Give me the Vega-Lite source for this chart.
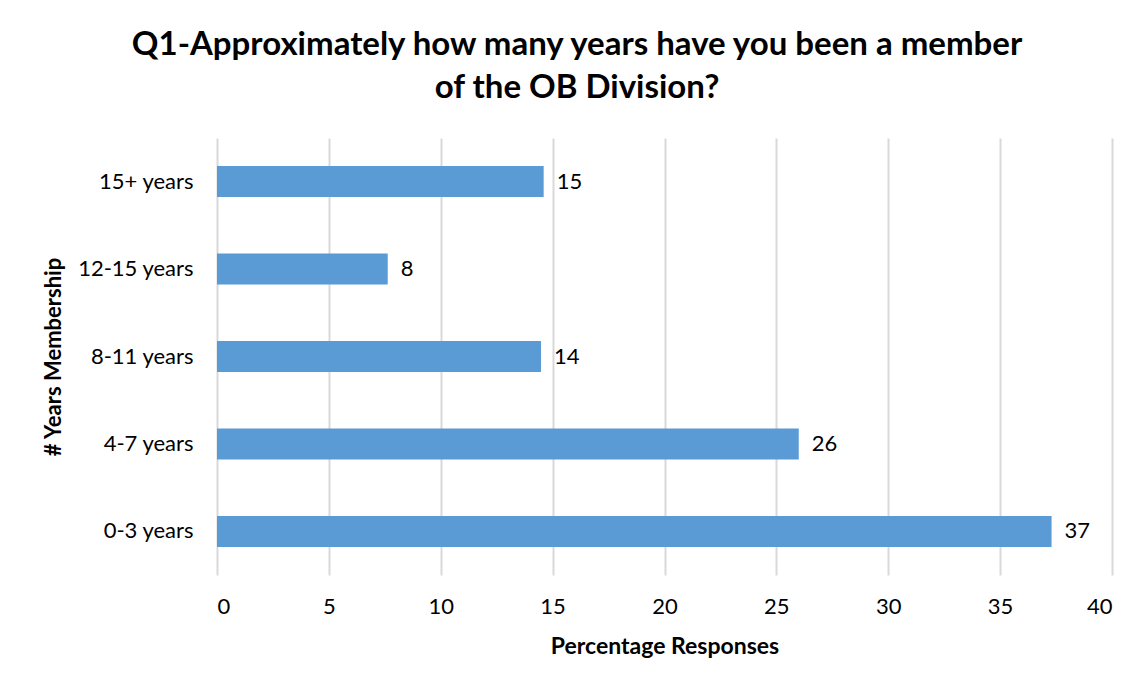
{
  "$schema": "https://vega.github.io/schema/vega-lite/v6.json",
  "width": 895,
  "height": 437,
  "autosize": {"type": "none"},
  "padding": {"left": 217, "top": 138, "right": 36, "bottom": 115},
  "background": "white",
  "config": {
    "font": "Lato",
    "view": {"stroke": null}
  },
  "title": {
    "text": ["Q1-Approximately how many years have you been a member", "of the OB Division?"],
    "font": "Lato",
    "fontSize": 33,
    "fontWeight": "bold",
    "color": "#000000",
    "anchor": "middle",
    "frame": "bounds",
    "lineHeight": 43,
    "offset": 33
  },
  "data": {
    "values": [
      {"category": "15+ years", "value": 14.6},
      {"category": "12-15 years", "value": 7.63},
      {"category": "8-11 years", "value": 14.48},
      {"category": "4-7 years", "value": 26.0},
      {"category": "0-3 years", "value": 37.3}
    ]
  },
  "encoding": {
    "y": {
      "field": "category",
      "type": "nominal",
      "sort": null,
      "scale": {"paddingInner": 0.645, "paddingOuter": 0.32},
      "axis": {
        "title": "# Years Membership",
        "titleFont": "Lato",
        "titleFontSize": 22,
        "titleFontWeight": "bold",
        "titleColor": "#000000",
        "titlePadding": 12,
        "labelFont": "Lato",
        "labelFontSize": 22,
        "labelColor": "#000000",
        "labelPadding": 24,
        "ticks": false,
        "domain": false,
        "grid": false
      }
    }
  },
  "layer": [
    {
      "mark": {"type": "bar", "color": "#5B9BD5"},
      "encoding": {
        "x": {
          "field": "value",
          "type": "quantitative",
          "scale": {"domain": [0, 40], "nice": false},
          "axis": {
            "title": "Percentage Responses",
            "titleFont": "Lato",
            "titleFontSize": 23,
            "titleFontWeight": "bold",
            "titleColor": "#000000",
            "titlePadding": 18,
            "values": [0, 5, 10, 15, 20, 25, 30, 35, 40],
            "labelFont": "Lato",
            "labelFontSize": 22,
            "labelColor": "#000000",
            "labelPadding": 21,
            "ticks": false,
            "domain": false,
            "grid": true,
            "gridColor": "#D9D9D9",
            "gridWidth": 2
          }
        }
      }
    },
    {
      "mark": {"type": "text", "align": "left", "dx": 13, "fontSize": 22, "font": "Lato", "color": "#000000"},
      "encoding": {
        "x": {"field": "value", "type": "quantitative"},
        "text": {"field": "value", "type": "quantitative", "format": ".0f"}
      }
    }
  ]
}
